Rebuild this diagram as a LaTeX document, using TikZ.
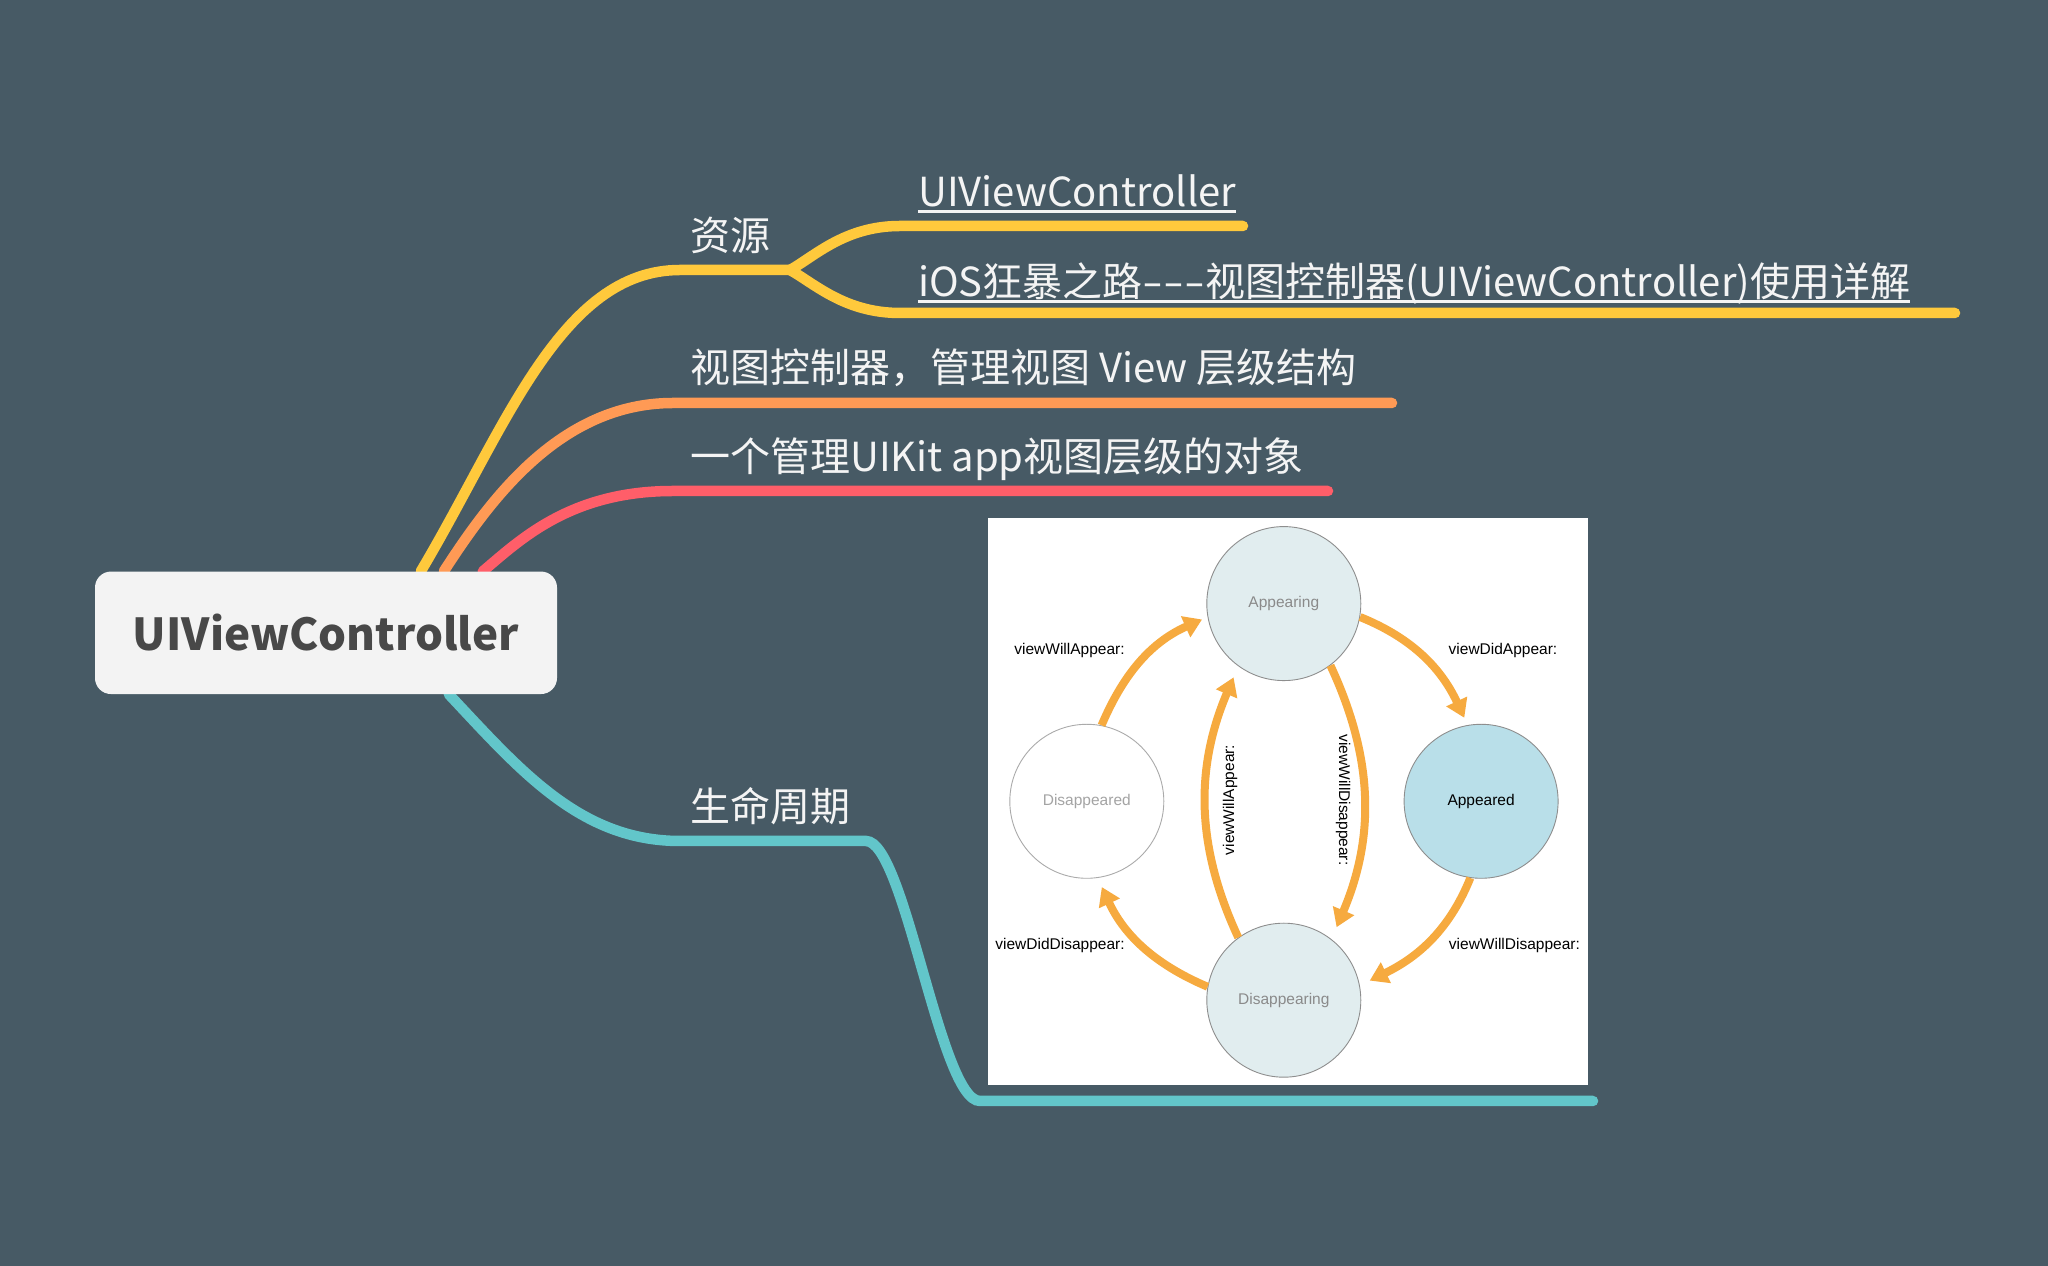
\documentclass[tikz,border=0pt]{standalone}
\usepackage{graphicx}
\usepackage{fontspec}
\setmainfont{Noto Sans CJK SC}
\newfontfamily\hel{Liberation Sans}
\usetikzlibrary{arrows.meta,calc}
\pgfdeclarelayer{back}
\pgfdeclarelayer{mid}
\pgfsetlayers{back,mid,main}
\definecolor{bgc}{HTML}{475A65}
\definecolor{rootfill}{HTML}{F3F3F3}
\definecolor{roottext}{HTML}{484848}
\definecolor{yel}{HTML}{FFC93C}
\definecolor{ora}{HTML}{FF9A55}
\definecolor{redc}{HTML}{FF5E69}
\definecolor{tealc}{HTML}{62C6CA}
\definecolor{topictext}{HTML}{F4F4F4}
\definecolor{arrowc}{HTML}{F6AA3F}
\definecolor{lightc}{HTML}{E1EDEF}
\definecolor{bluec}{HTML}{B9DFE9}
\definecolor{bordc}{HTML}{8E8E8E}
\definecolor{bordl}{HTML}{AAAAAA}
\definecolor{graytext}{HTML}{8A8A8A}
\definecolor{lighttext}{HTML}{A4A4A4}
\newcommand{\hy}{\scalebox{1.5}[1]{-}}
\begin{document}
\begin{tikzpicture}[x=1pt,y=1pt,
  branch/.style={line width=10.5pt, line cap=round},
  topic/.style={anchor=base west, inner sep=0pt, text=topictext, font=\fontsize{40}{48}\selectfont},
  ul/.style={draw=topictext, line width=2.5pt},
  rootbox/.style={rounded corners=16pt, fill=rootfill, minimum width=462pt, minimum height=122.5pt, inner sep=0pt, text=roottext, font=\bfseries\fontsize{44}{53}\selectfont},
  state/.style={circle, minimum size=154pt, inner sep=0pt, draw=bordc, line width=0.9pt, font=\hel\fontsize{15.5}{18}\selectfont},
  lbl/.style={font=\hel\fontsize{15.5}{18}\selectfont, text=black, inner sep=0pt},
  flow/.style={draw=arrowc, line width=8pt, -{Triangle[length=18pt,width=22pt]}},
]
\begin{pgfonlayer}{back}
\fill[bgc] (0,0) rectangle (2048,1266);
\end{pgfonlayer}
\useasboundingbox (0,0) rectangle (2048,1266);

% root
\node[rootbox] (root) at (326,633.2) {UIViewController};

% topics
\node[topic] (t1) at (690,1015) {资源};
\node[topic] (l1) at (918,1059) {UIViewController};
\node[topic] (l2) at (918,969) {iOS狂暴之路\hy\hy\hy 视图控制器(UIViewController)使用详解};
\node[topic] (t2) at (690,883) {视图控制器，管理视图 View 层级结构};
\node[topic] (t3) at (690,794) {一个管理UIKit app视图层级的对象};
\node[topic] (t4) at (690,444) {生命周期};

\draw[ul] ([yshift=-4.7pt]l1.base west) -- ([yshift=-4.7pt]l1.base east);
\draw[ul] ([yshift=-4.7pt]l2.base west) -- ([yshift=-4.7pt]l2.base east);

% branch end points
\coordinate (ys) at (790,996);
\coordinate (ye1) at (1243,1040);
\coordinate (ye2) at (1955,953);
\coordinate (oe) at (1392,863);
\coordinate (re) at (1328,775);
\coordinate (tc) at (866,425);
\coordinate (te) at (1593,165);

\begin{pgfonlayer}{mid}
\draw[branch, yel] ([xshift=326pt]root.north west) .. controls (505,836) and (560,996) .. (680,996) -- (ys);
\draw[branch, yel] (ys) .. controls (815,1010) and (845,1040) .. (900,1040) -- (ye1);
\draw[branch, yel] (ys) .. controls (815,982) and (845,953) .. (900,953) -- (ye2);
\draw[branch, ora] ([xshift=349pt]root.north west) .. controls (490,766) and (560,863) .. (673,863) -- (oe);
\draw[branch, redc] ([xshift=388pt]root.north west) .. controls (520,726) and (570,775) .. (673,775) -- (re);
\draw[branch, tealc] ([xshift=354pt]root.south west) .. controls (520,496) and (580,425) .. (680,425) -- (tc) .. controls (905,425) and (940,165) .. (980,165) -- (te);
\end{pgfonlayer}

% lifecycle panel
\node[fill=white, minimum width=599.6pt, minimum height=567.2pt, inner sep=0pt] (panel) at (1287.8,464.6) {};

\node[state, fill=lightc, text=graytext] (ap) at (1283.8,662.4) {Appearing};
\node[state, fill=white, draw=bordl, text=lighttext] (dd) at (1086.8,464.7) {Disappeared};
\node[state, fill=bluec, text=black] (apd) at (1481.1,464.7) {Appeared};
\node[state, fill=lightc, text=graytext] (dg) at (1283.8,265.8) {Disappearing};

\draw[flow, shorten >=6pt] (dd.79) to[out=67,in=204] (ap.190);
\draw[flow, shorten >=8pt] (ap.350) to[out=-22,in=115] (apd.100);
\draw[flow, shorten >=11pt] (apd.262) to[out=248,in=26] (dg.11);
\draw[flow, shorten >=10pt] (dg.170) to[out=157,in=295] (dd.278);
\draw[flow, shorten >=12pt] (dg.126) to[out=115,in=247] (ap.234);
\draw[flow, shorten >=13pt] (ap.307) to[out=-65,in=67] (dg.52);

\node[lbl] (la1) at (1069.5,615) {viewWillAppear:};
\node[lbl] (la2) at (1503,615) {viewDidAppear:};
\node[lbl] (la3) at (1060,321) {viewDidDisappear:};
\node[lbl] (la4) at (1514.4,321) {viewWillDisappear:};
\node[lbl, rotate=90] (la5) at (1230,466) {viewWillAppear:};
\node[lbl, rotate=-90] (la6) at (1343,466) {viewWillDisappear:};
\end{tikzpicture}
\end{document}
